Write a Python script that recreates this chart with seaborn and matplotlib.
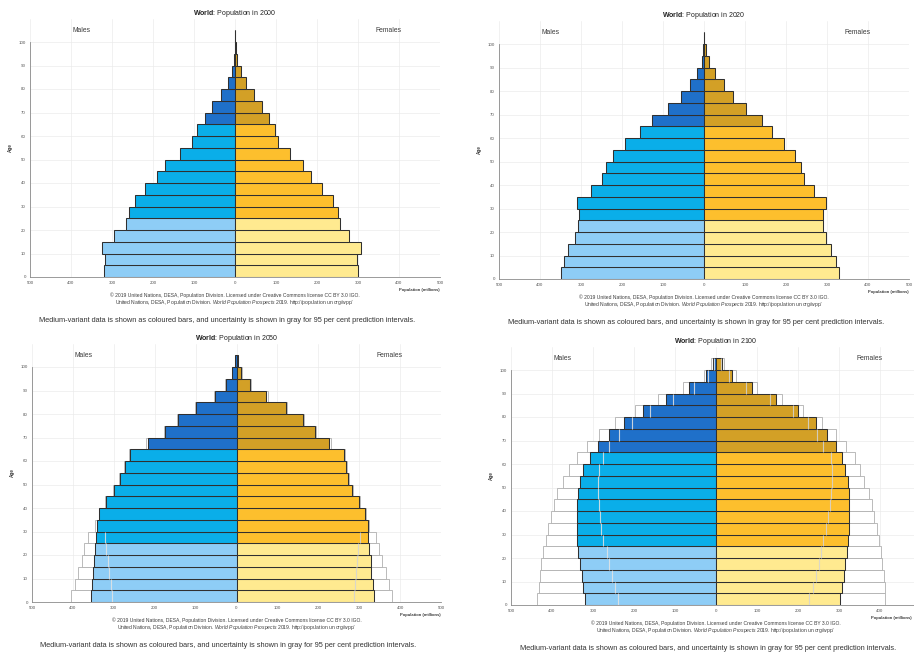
import numpy as np
import pandas as pd
import matplotlib
matplotlib.use("Agg")
import matplotlib.pyplot as plt
import seaborn as sns

# ---------------- data (millions) ----------------
age_start = [0, 5, 10, 15, 20, 25, 30, 35, 40, 45, 50, 55, 60, 65, 70, 75, 80, 85, 90, 95, 100]
x_ticks = [-500, -400, -300, -200, -100, 0, 100, 200, 300, 400, 500]
x_tick_labels = ["500", "400", "300", "200", "100", "0", "100", "200", "300", "400", "500"]
y_ticks = [0, 10, 20, 30, 40, 50, 60, 70, 80, 90, 100]

male_2000 = [319, 316, 324, 295, 265, 258, 243, 219, 190, 171, 134, 105, 93, 73, 55, 33, 17, 7, 2.5, 0.7, 0.1]
female_2000 = [300, 298, 308, 279, 255, 250, 238, 212, 186, 167, 133, 106, 97, 82, 65, 47, 27, 15, 5, 1.5, 0.3]

male_2020 = [350, 341, 332, 315, 308, 305, 309, 276, 248, 240, 222, 192, 156, 128, 87, 55, 33, 16, 5.5, 1.5, 0.2]
female_2020 = [330, 322, 310, 297, 290, 290, 297, 269, 244, 237, 223, 196, 166, 142, 102, 70, 49, 28, 11, 5, 0.5]

male_2050 = [355, 353, 351, 349, 347, 343, 342, 335, 320, 300, 286, 273, 261, 217, 174, 142, 98, 52, 25, 10, 3]
female_2050 = [336, 333, 330, 328, 325, 322, 321, 314, 300, 283, 272, 267, 264, 227, 191, 162, 120, 72, 33, 11, 3]
male_2050_hi = [404, 396, 387, 378, 372, 363, 345, 337, 322, 302, 288, 275, 263, 221, 178, 146, 102, 56, 28, 12, 4]
female_2050_hi = [381, 373, 365, 356, 349, 341, 323, 316, 302, 285, 274, 269, 266, 231, 195, 166, 124, 76, 36, 13, 4]
male_2050_lo = [305, 308, 312, 315, 318, 322, None, None, None, None, None, None, None, None, None, None, None, None, None, None, None]
female_2050_lo = [288, 290, 292, 294, 296, 302, None, None, None, None, None, None, None, None, None, None, None, None, None, None, None]

male_2100 = [320, 324, 328, 332, 336, 338, 339, 340, 338, 336, 332, 324, 307, 289, 260, 224, 179, 123, 65, 24, 7]
female_2100 = [302, 308, 311, 315, 319, 323, 325, 325, 325, 325, 322, 315, 307, 292, 270, 244, 201, 146, 87, 38, 15]
male_2100_hi = [436, 431, 430, 427, 423, 415, 409, 403, 395, 387, 374, 358, 340, 315, 285, 246, 198, 142, 81, 29, 11]
female_2100_hi = [412, 411, 410, 406, 402, 398, 392, 385, 380, 374, 362, 350, 339, 317, 293, 258, 213, 160, 99, 49, 19]
male_2100_lo = [240, 247, 254, 260, 266, 276, 280, 283, 285, 287, 289, 285, 276, 260, 237, 206, 161, 104, 53, 19, 4]
female_2100_lo = [228, 236, 244, 250, 256, 260, 268, 274, 278, 280, 282, 283, 280, 262, 247, 225, 187, 132, 73, 32, 12]

years = ["2000", "2020", "2050", "2100"]

palette = {
    "m0": "#8ecdf6", "m1": "#0aaee9", "m2": "#1f70c9",
    "f0": "#ffea90", "f1": "#fdbf2d", "f2": "#d3a026",
}
unc_palette = {"m": "white", "f": "white"}

# ---------------- style ----------------
sns.set_style("white")
plt.rcParams["font.family"] = ["Liberation Sans", "DejaVu Sans"]
plt.rcParams["mathtext.fontset"] = "custom"
plt.rcParams["mathtext.rm"] = "Liberation Sans"
plt.rcParams["mathtext.bf"] = "Liberation Sans:bold"
plt.rcParams["mathtext.it"] = "Liberation Sans:italic"

W, H = 914, 653
fig = plt.figure(figsize=(W / 100, H / 100), dpi=100)

# pixel layout of each panel: (x of -500, x of +500, y of age 0)
layout = [(30, 440, 277), (499, 909, 279), (32, 441, 602), (511, 921, 605)]
PX_PER_YEAR = 2.35
YTOP = 110


def group(age, sex):
    g = 0 if age < 25 else (1 if age < 65 else 2)
    return f"{sex}{g}"


def build(male, female):
    rows = []
    for a, m, f in zip(age_start, male, female):
        rows.append({"mid": a + 2.5, "value": -m, "grp": group(a, "m")})
        rows.append({"mid": a + 2.5, "value": f, "grp": group(a, "f")})
    return pd.DataFrame(rows)


def build_plain(male, female):
    rows = []
    for a, m, f in zip(age_start, male, female):
        rows.append({"mid": a + 2.5, "value": -m, "sex": "m"})
        rows.append({"mid": a + 2.5, "value": f, "sex": "f"})
    return pd.DataFrame(rows)


panels = [
    (male_2000, female_2000, None, None, None, None),
    (male_2020, female_2020, None, None, None, None),
    (male_2050, female_2050, male_2050_hi, female_2050_hi, male_2050_lo, female_2050_lo),
    (male_2100, female_2100, male_2100_hi, female_2100_hi, male_2100_lo, female_2100_lo),
]

txt_col = "#3c3c3c"

for i, (yr, (mv, fv, mhi, fhi, mlo, flo)) in enumerate(zip(years, panels)):
    xl, xr, y0 = layout[i]
    ax = fig.add_axes([xl / W, (H - y0) / H, (xr - xl) / W, YTOP * PX_PER_YEAR / H])
    ax.set_axisbelow(True)
    ax.grid(True, color="#ebebeb", lw=0.5)

    if mhi is not None:
        dhi = build_plain(mhi, fhi)
        sns.barplot(data=dhi, x="value", y="mid", hue="sex", palette=unc_palette,
                    orient="h", native_scale=True, dodge=False, saturation=1, width=1,
                    edgecolor="#b0b0b0", linewidth=0.6, errorbar=None, legend=False, ax=ax)

    d = build(mv, fv)
    sns.barplot(data=d, x="value", y="mid", hue="grp", palette=palette, orient="h",
                native_scale=True, dodge=False, width=1, saturation=1,
                edgecolor="#303030", linewidth=0.75, errorbar=None, legend=False, ax=ax)

    if mlo is not None:
        for a, m, f in zip(age_start, mlo, flo):
            if m is not None:
                ax.vlines(-m, a, a + 5, colors="#e4e4e4", lw=0.8, alpha=0.85, zorder=3)
            if f is not None:
                ax.vlines(f, a, a + 5, colors="#d4d4d4", lw=0.8, alpha=0.85, zorder=3)

    ax.set_xlim(-500, 500)
    ax.set_ylim(0, YTOP)
    ax.set_xticks(x_ticks)
    labels = list(x_tick_labels)
    if xr > W:
        labels[-1] = ""
    ax.set_xticklabels(labels)
    ax.set_yticks(y_ticks)
    ax.set_yticklabels([str(t) for t in y_ticks])
    ax.tick_params(labelsize=3.2, colors="#555555", length=1.5, width=0.4, pad=1.5)
    for s in ["top", "right"]:
        ax.spines[s].set_visible(False)
    ax.spines["left"].set_bounds(0, 100)
    ax.spines["left"].set_color("#8a8a8a")
    ax.spines["bottom"].set_color("#8a8a8a")
    ax.spines["left"].set_linewidth(0.6)
    ax.spines["bottom"].set_linewidth(0.6)
    ax.set_xlabel("")
    ax.set_ylabel("Age", fontsize=3.3, fontweight="bold", color=txt_col, labelpad=4)

    ax.text(0, 112.3, r"$\mathbf{World}$: Population in " + yr, ha="center", va="center",
            fontsize=5.0, color="#222222")
    ax.text(-375, 104.8, "Males", ha="center", va="center", fontsize=4.9, color=txt_col)
    ax.text(375, 104.8, "Females", ha="center", va="center", fontsize=4.9, color=txt_col)
    # keep the axis title inside the picture when the panel runs past the right edge
    pop_x = 500 if xr <= W else 500 - (xr - W + 2) * 1000 / (xr - xl)
    ax.text(pop_x, -5.6, "Population (millions)", ha="right", va="center", fontsize=3,
            fontweight="bold", color=txt_col)
    ax.text(0, -7.7, "© 2019 United Nations, DESA, Population Division. Licensed under "
            "Creative Commons license CC BY 3.0 IGO.", ha="center", va="center",
            fontsize=3.6, color=txt_col)
    ax.text(0, -10.8, r"United Nations, DESA, Population Division. $\mathit{World\ Population\ "
            r"Prospects\ 2019}$. http://population.un.org/wpp/", ha="center", va="center",
            fontsize=3.6, color=txt_col)
    ax.text(-20, -18.3, "Medium-variant data is shown as coloured bars, and uncertainty is "
            "shown in gray for 95 per cent prediction intervals.", ha="center", va="center",
            fontsize=5.3, color="#333333")

fig.savefig("out.png", dpi=100)
